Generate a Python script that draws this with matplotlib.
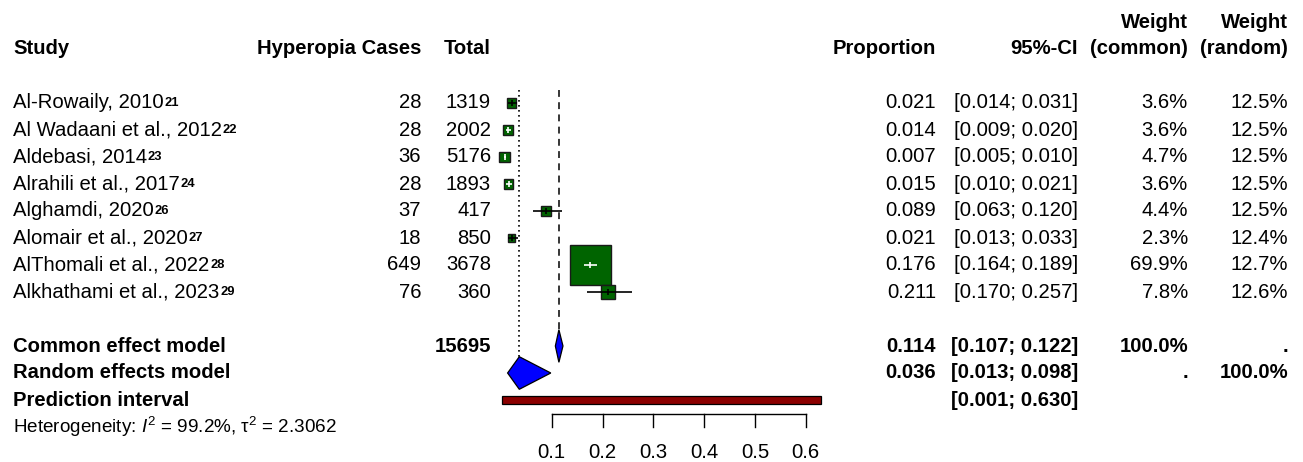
import numpy as np
import matplotlib
matplotlib.use("Agg")
import matplotlib.pyplot as plt
from matplotlib.patches import Rectangle, Polygon
from matplotlib.transforms import blended_transform_factory

plt.rcParams['font.family'] = ['Liberation Sans', 'DejaVu Sans']
plt.rcParams['mathtext.fontset'] = 'custom'
plt.rcParams['mathtext.rm'] = 'Liberation Sans'
plt.rcParams['mathtext.it'] = 'Liberation Sans:italic'
plt.rcParams['mathtext.bf'] = 'Liberation Sans:bold'
plt.rcParams['mathtext.default'] = 'regular'

# ---- data ----
studies = ["Al-Rowaily, 2010", "Al Wadaani et al., 2012", "Aldebasi, 2014",
           "Alrahili et al., 2017", "Alghamdi, 2020", "Alomair et al., 2020",
           "AlThomali et al., 2022", "Alkhathami et al., 2023"]
refs = ["21", "22", "23", "24", "26", "27", "28", "29"]
cases = [28, 28, 36, 28, 37, 18, 649, 76]
totals = [1319, 2002, 5176, 1893, 417, 850, 3678, 360]
prop = [0.021, 0.014, 0.007, 0.015, 0.089, 0.021, 0.176, 0.211]
ci_lo = [0.014, 0.009, 0.005, 0.010, 0.063, 0.013, 0.164, 0.170]
ci_hi = [0.031, 0.020, 0.010, 0.021, 0.120, 0.033, 0.189, 0.257]
w_common = [3.6, 3.6, 4.7, 3.6, 4.4, 2.3, 69.9, 7.8]
w_random = [12.5, 12.5, 12.5, 12.5, 12.5, 12.4, 12.7, 12.6]

common_est, common_lo, common_hi = 0.114, 0.107, 0.122
random_est, random_lo, random_hi = 0.036, 0.013, 0.098
pred_lo, pred_hi = 0.001, 0.630
n_total = 15695
i2, tau2 = "99.2%", "2.3062"
ticks = [0.1, 0.2, 0.3, 0.4, 0.5, 0.6]

# ---- figure / layout ----
W, H = 1303, 462
fig = plt.figure(figsize=(W / 100, H / 100), dpi=100)
ax = fig.add_axes([0, 0, 1, 1])
ax.set_axis_off()

x0_px, px_per_unit = 501.0, 508.0        # horizontal scale of the forest panel
row0_px, row_h = 103.0, 27.0              # vertical row spacing
ax.set_xlim(-x0_px / px_per_unit, (W - x0_px) / px_per_unit)
ax.set_ylim((H - row0_px) / row_h, -row0_px / row_h)

fs = 14.6
tx = blended_transform_factory(fig.transFigure, ax.transData)


def col(xpx):
    return xpx / W


def put(xpx, y, s, ha='right', bold=False, size=fs):
    return ax.text(col(xpx), y, s, transform=tx, ha=ha, va='center',
                   fontsize=size, fontweight='bold' if bold else 'normal')


# column positions (right edges unless noted)
X_STUDY, X_CASES, X_TOTAL = 13, 421, 491
X_PROP, X_CI, X_WC, X_WR = 936, 1078, 1188, 1288

# headers
put(X_WC, -3, "Weight", bold=True)
put(X_WR, -3, "Weight", bold=True)
put(X_STUDY, -2, "Study", ha='left', bold=True)
put(X_CASES, -2, "Hyperopia Cases", bold=True)
put(X_TOTAL, -2, "Total", bold=True)
put(X_PROP, -2, "Proportion", bold=True)
put(X_CI, -2, "95%-CI", bold=True)
put(X_WC, -2, "(common)", bold=True)
put(X_WR, -2, "(random)", bold=True)

# study rows
box_ref_side, box_ref_w = 40.7, 69.9
for k, (name, r, c, n, p, lo, hi, wc, wr) in enumerate(
        zip(studies, refs, cases, totals, prop, ci_lo, ci_hi, w_common, w_random)):
    t = put(X_STUDY, k, name, ha='left')
    # reference number as a small raised label right after the study name
    ax.annotate(r, xy=(1.0, 1.0), xycoords=t, xytext=(0.6, -2.4),
                textcoords='offset points', ha='left', va='top',
                fontsize=9.4, fontweight='bold')
    put(X_CASES, k, f"{c}")
    put(X_TOTAL, k, f"{n}")
    put(X_PROP, k, f"{p:.3f}")
    put(X_CI, k, f"[{lo:.3f}; {hi:.3f}]")
    put(X_WC, k, f"{wc:.1f}%")
    put(X_WR, k, f"{wr:.1f}%")

    side = box_ref_side * np.sqrt(wc / box_ref_w)
    bw, bh = side / px_per_unit, side / row_h
    ax.add_patch(Rectangle((p - bw / 2, k - bh / 2), bw, bh,
                           facecolor='#006400', edgecolor='#1a1a1a',
                           linewidth=1.0, zorder=3))
    inside = (lo > p - bw / 2) and (hi < p + bw / 2)
    lc = 'white' if inside else 'black'
    ax.plot([lo, hi], [k, k], color=lc, lw=1.2, zorder=4,
            solid_capstyle='butt')
    tick_h = 3.2 / row_h
    ax.plot([p, p], [k - tick_h, k + tick_h], color=lc, lw=1.2, zorder=4,
            solid_capstyle='butt')

# summary rows
k_com, k_ran, k_pred, k_het = 9, 10, 11, 12
put(X_STUDY, k_com, "Common effect model", ha='left', bold=True)
put(X_TOTAL, k_com, f"{n_total}", bold=True)
put(X_PROP, k_com, f"{common_est:.3f}", bold=True)
put(X_CI, k_com, f"[{common_lo:.3f}; {common_hi:.3f}]", bold=True)
put(X_WC, k_com, "100.0%", bold=True)
put(X_WR, k_com, ".", bold=True)

put(X_STUDY, k_ran, "Random effects model", ha='left', bold=True)
put(X_PROP, k_ran, f"{random_est:.3f}", bold=True)
put(X_CI, k_ran, f"[{random_lo:.3f}; {random_hi:.3f}]", bold=True)
put(X_WC, k_ran, ".", bold=True)
put(X_WR, k_ran, "100.0%", bold=True)

put(X_STUDY, k_pred, "Prediction interval", ha='left', bold=True)
put(X_CI, k_pred, f"[{pred_lo:.3f}; {pred_hi:.3f}]", bold=True)

put(X_STUDY, k_het,
    r"Heterogeneity: $\mathit{I}^2$ = " + i2 + ", \u03c4$^2$ = " + tau2,
    ha='left', size=13.6)

# diamonds
dh = 16.3 / row_h
for est, lo, hi, k in [(common_est, common_lo, common_hi, k_com),
                       (random_est, random_lo, random_hi, k_ran)]:
    ax.add_patch(Polygon([(lo, k), (est, k - dh), (hi, k), (est, k + dh)],
                         closed=True, facecolor='#0000FF', edgecolor='black',
                         linewidth=0.9, zorder=3))

# prediction interval bar
ph = 8.0 / row_h
ax.add_patch(Rectangle((pred_lo, k_pred - ph / 2), pred_hi - pred_lo, ph,
                       facecolor='#8B0000', edgecolor='black', linewidth=0.9,
                       zorder=3))

# reference lines for the pooled estimates
y_top = -0.48
ax.plot([common_est, common_est], [y_top, k_com - dh], color='black', lw=1.1,
        linestyle=(0, (4.5, 3.5)), zorder=2)
ax.plot([random_est, random_est], [y_top, k_ran - dh], color='black', lw=1.2,
        linestyle=(0, (1, 2.0)), zorder=2)

# x axis
y_axis = (414 - row0_px) / row_h
tick_len = 13 / row_h
ax.plot([ticks[0], ticks[-1]], [y_axis, y_axis], color='black', lw=1.0)
for t in ticks:
    ax.plot([t, t], [y_axis, y_axis + tick_len], color='black', lw=1.0)
    ax.text(t, (452 - row0_px) / row_h, f"{t:.1f}", ha='center', va='center',
            fontsize=fs)

fig.savefig("out.png", dpi=100)
